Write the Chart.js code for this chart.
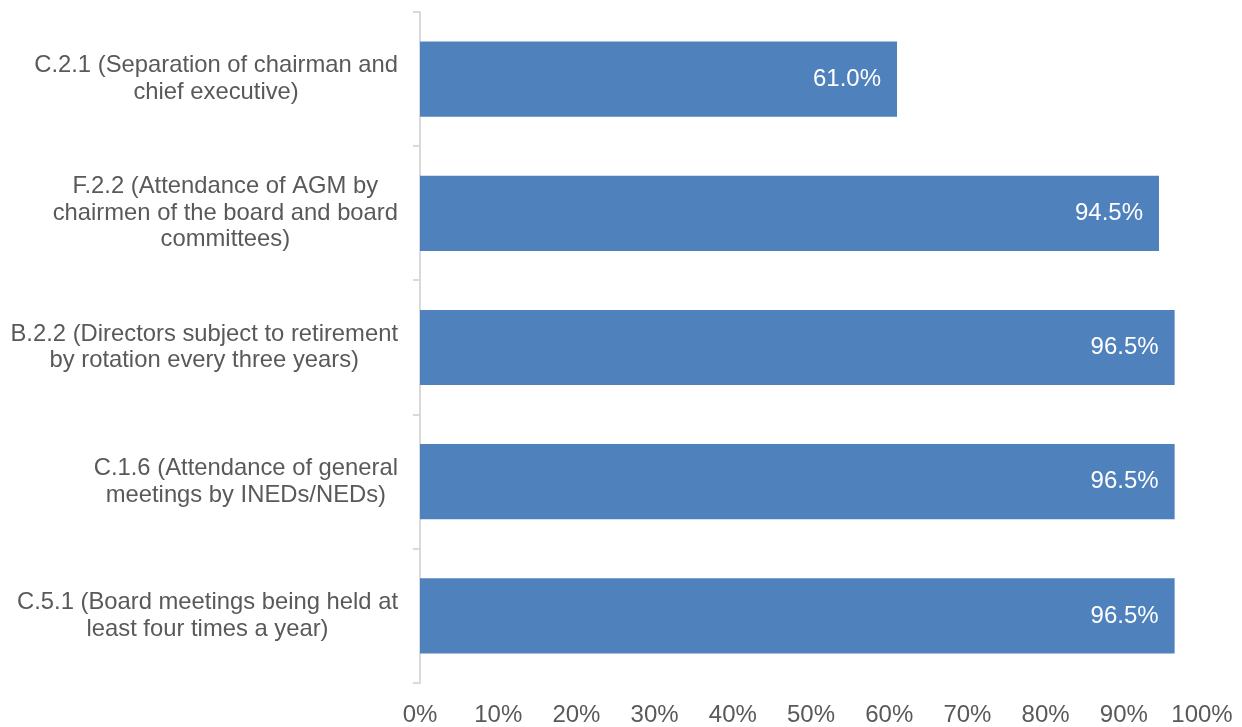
<!DOCTYPE html>
<html><head><meta charset="utf-8">
<script src="https://cdn.jsdelivr.net/npm/chart.js@4"></script>
<style>html,body{margin:0;padding:0;background:#fff}#wrap{width:1242px;height:727px}</style>
</head><body><div id="wrap"><canvas id="c"></canvas></div>
<script>
const categories = [
  ["C.2.1 (Separation of chairman and", "chief executive)"],
  ["F.2.2 (Attendance of AGM by", "chairmen of the board and board", "committees)"],
  ["B.2.2 (Directors subject to retirement", "by rotation every three years)"],
  ["C.1.6 (Attendance of general", "meetings by INEDs/NEDs)"],
  ["C.5.1 (Board meetings being held at", "least four times a year)"]
];
const values = [61.0, 94.5, 96.5, 96.5, 96.5];
const xTicks = [0, 10, 20, 30, 40, 50, 60, 70, 80, 90, 100];

const FONT = "'Liberation Sans', Arial, sans-serif";
const TXT = '#595959';
const FS = 24;

const yLabelPlugin = {
  id: 'yLabels',
  afterDraw(chart) {
    const ctx = chart.ctx, ys = chart.scales.y;
    ctx.save();
    ctx.font = '23.8px ' + FONT;
    ctx.fillStyle = TXT;
    ctx.textAlign = 'center';
    ctx.textBaseline = 'middle';
    const rightEdge = ys.right - 22;
    const lh = 26.5;
    categories.forEach((lines, i) => {
      const cy = ys.getPixelForTick(i);
      const widest = Math.max(...lines.map(l => ctx.measureText(l).width));
      const cx = rightEdge - widest / 2;
      const y0 = cy - (lines.length - 1) * lh / 2;
      lines.forEach((l, k) => ctx.fillText(l, cx, y0 + k * lh));
    });
    ctx.restore();
  }
};

const valueLabelPlugin = {
  id: 'valueLabels',
  afterDatasetsDraw(chart) {
    const ctx = chart.ctx;
    const meta = chart.getDatasetMeta(0);
    ctx.save();
    ctx.font = FS + 'px ' + FONT;
    ctx.fillStyle = '#ffffff';
    ctx.textAlign = 'right';
    ctx.textBaseline = 'middle';
    meta.data.forEach((bar, i) => {
      ctx.fillText(values[i].toFixed(1) + '%', bar.x - 16, bar.y);
    });
    ctx.restore();
  }
};

new Chart(document.getElementById('c'), {
  type: 'bar',
  data: {
    labels: categories.map(c => c.join(' ')),
    datasets: [{
      data: values,
      backgroundColor: '#4F81BD',
      borderWidth: 0,
      barPercentage: 0.56,
      categoryPercentage: 1.0
    }]
  },
  options: {
    indexAxis: 'y',
    responsive: true,
    maintainAspectRatio: false,
    animation: false,
    layout: { padding: { top: 12, right: 40, left: 0, bottom: 0 } },
    plugins: { legend: { display: false }, tooltip: { enabled: false } },
    scales: {
      x: {
        min: 0, max: 100,
        afterBuildTicks(s) { s.ticks = xTicks.map(v => ({ value: v })); },
        grid: { display: false, drawTicks: false },
        border: { display: false },
        ticks: {
          padding: 18,
          maxRotation: 0,
          autoSkip: false,
          color: TXT,
          font: { family: FONT, size: FS },
          callback: v => v + '%'
        },
        afterFit(s) { s.height = 44; s.paddingLeft = 0; s.paddingRight = 0; }
      },
      y: {
        grid: { offset: true, drawOnChartArea: false, tickLength: 7, color: '#d9d9d9', lineWidth: 2 },
        border: { display: true, color: '#d9d9d9', width: 2 },
        ticks: { callback: () => '', padding: 0 },
        afterFit(s) { s.width = 420; }
      }
    }
  },
  plugins: [yLabelPlugin, valueLabelPlugin]
});
</script>
</body></html>
